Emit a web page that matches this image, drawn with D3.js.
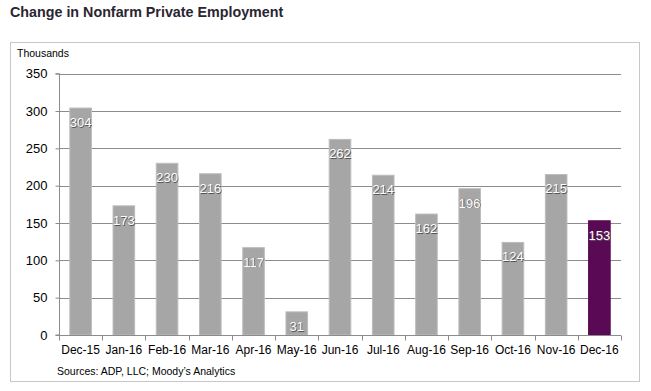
<!DOCTYPE html>
<html><head><meta charset="utf-8">
<script src="https://cdn.jsdelivr.net/npm/d3@7"></script>
<style>body{margin:0;background:#fff;}svg{display:block;font-family:Arial,"Liberation Sans",sans-serif;}</style>
</head><body><svg id="c" width="651" height="391"></svg>
<script>
const categories = ["Dec-15","Jan-16","Feb-16","Mar-16","Apr-16","May-16","Jun-16","Jul-16","Aug-16","Sep-16","Oct-16","Nov-16","Dec-16"];
const values = [304,173,230,216,117,31,262,214,162,196,124,215,153];
const yTicks = [0,50,100,150,200,250,300,350];

(function(){
const svg = d3.select("#c");
svg.append("text").attr("x",10).attr("y",17).attr("font-size",14.3).attr("font-weight","bold").attr("fill","#2a2530").text("Change in Nonfarm Private Employment");
svg.append("rect").attr("x",10.5).attr("y",42.5).attr("width",629).attr("height",339).attr("fill","none").attr("stroke","#c8c8c8");
svg.append("text").attr("x",17).attr("y",57).attr("font-size",10.5).attr("fill","#000").text("Thousands");

const pL=59, pR=621, pT=73.7, pB=335;
const x = d3.scaleBand().domain(categories).range([pL,pR]).paddingInner(0.5).paddingOuter(0.25);
const y = d3.scaleLinear().domain([0,350]).range([pB,pT]);

svg.append("g").selectAll("line").data(yTicks.filter(d=>d>0)).join("line")
  .attr("x1",pL).attr("x2",pR).attr("y1",d=>Math.round(y(d))+0.5).attr("y2",d=>Math.round(y(d))+0.5)
  .attr("stroke","#8c8c8c").attr("stroke-width",1);

svg.append("g").selectAll("rect").data(values).join("rect")
  .attr("x",(d,i)=>x(categories[i])).attr("width",x.bandwidth())
  .attr("y",d=>y(d)).attr("height",d=>pB-y(d))
  .attr("fill",(d,i)=>i===values.length-1?"#5a0a55":"#a6a6a6")
  .attr("stroke",(d,i)=>i===values.length-1?"#5a0a55":"#bdbdbd").attr("stroke-width",1);

const lab = svg.append("g").selectAll("g").data(values).join("g");
lab.append("text").attr("x",(d,i)=>x(categories[i])+x.bandwidth()/2+0.8).attr("y",d=>y(d)+19.8)
  .attr("text-anchor","middle").attr("font-size",13).attr("fill","#555").text(d=>d);
lab.append("text").attr("x",(d,i)=>x(categories[i])+x.bandwidth()/2).attr("y",d=>y(d)+19)
  .attr("text-anchor","middle").attr("font-size",13).attr("fill","#fff").text(d=>d);

const ya = svg.append("g").attr("transform",`translate(${pL+0.5},0)`)
  .call(d3.axisLeft(y).tickValues(yTicks).tickSize(4).tickPadding(8).tickFormat(d3.format("d")));
ya.select(".domain").attr("stroke","#8c8c8c").attr("d",`M-4,${y(350)}H0V${pB}H-4`);
ya.selectAll(".tick line").attr("stroke","#8c8c8c");
ya.selectAll(".tick text").attr("font-size",13).attr("fill","#000").attr("font-family","Arial,'Liberation Sans',sans-serif");

const xa = svg.append("g").attr("transform",`translate(0,${pB+0.5})`);
xa.append("line").attr("x1",pL).attr("x2",pR).attr("stroke","#8c8c8c");
const step = (pR-pL)/categories.length;
xa.selectAll("line.t").data(d3.range(categories.length+1)).join("line").attr("class","t")
  .attr("x1",i=>Math.round(pL+i*step)+0.5).attr("x2",i=>Math.round(pL+i*step)+0.5).attr("y1",0).attr("y2",5).attr("stroke","#8c8c8c");
xa.selectAll("text").data(categories).join("text")
  .attr("x",d=>x(d)+x.bandwidth()/2).attr("y",18).attr("text-anchor","middle")
  .attr("font-size",12).attr("fill","#000").text(d=>d);

svg.append("text").attr("x",57).attr("y",375).attr("font-size",10.5).attr("fill","#000").text("Sources: ADP, LLC; Moody’s Analytics");
})();
</script></body></html>
